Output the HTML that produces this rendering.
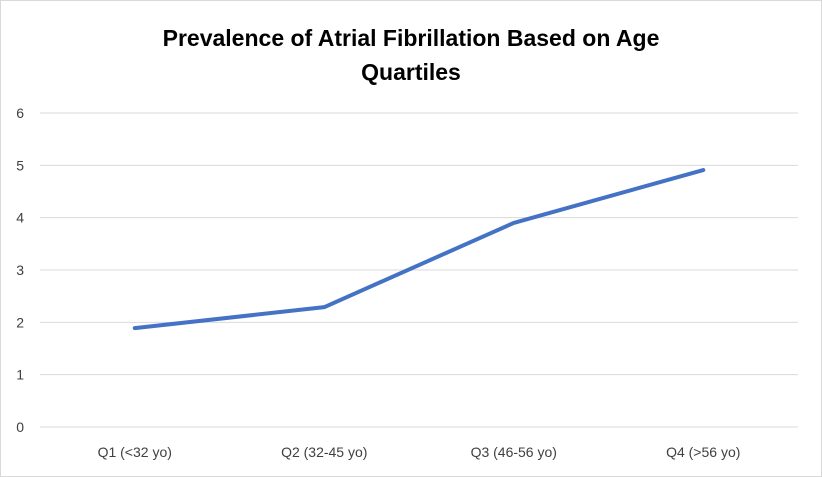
<!DOCTYPE html>
<html><head><meta charset="utf-8"><style>
html,body{margin:0;padding:0;background:#fff;}
svg{display:block;font-family:"Liberation Sans",Arial,sans-serif;}
</style></head><body>
<svg id="chart" width="822" height="477">
<rect x="0.5" y="0.5" width="821" height="476" fill="#fff" stroke="#d9d9d9"/>
<text x="411" y="46" text-anchor="middle" font-size="23" font-weight="bold" fill="#000">Prevalence of Atrial Fibrillation Based on Age</text>
<text x="411" y="80" text-anchor="middle" font-size="23" font-weight="bold" fill="#000">Quartiles</text>
<g id="grid"></g><g id="ylabels"></g><g id="xlabels"></g><g id="series"></g>
</svg>
<script>
const categories=["Q1 (<32 yo)","Q2 (32-45 yo)","Q3 (46-56 yo)","Q4 (>56 yo)"];
const values=[1.89,2.29,3.9,4.91];
const yTicks=[0,1,2,3,4,5,6];
const NS="http://www.w3.org/2000/svg";
const left=40,right=798,y0=427,yTop=113,yMax=6;
const y=v=>y0-(v/yMax)*(y0-yTop);
const bw=(right-left)/categories.length;
const x=i=>left+bw*(i+0.5);
function mk(t,a,p){const e=document.createElementNS(NS,t);for(const k in a)e.setAttribute(k,a[k]);p.appendChild(e);return e;}
const grid=document.getElementById('grid'),yl=document.getElementById('ylabels'),xl=document.getElementById('xlabels'),se=document.getElementById('series');
yTicks.forEach(t=>{
 const l=mk('line',{x1:left,x2:right,y1:y(t),y2:y(t),stroke:'#d9d9d9','stroke-width':1},grid);
 
 
 const tx=mk('text',{x:24,y:y(t)+5,'text-anchor':'end','font-size':14,fill:'#404040'},yl);
 tx.textContent=t;
 
 
});
categories.forEach((c,i)=>{
 const tx=mk('text',{x:x(i),y:457,'text-anchor':'middle','font-size':14,fill:'#404040'},xl);
 tx.textContent=c;
 
 
});
const pts=values.map((v,i)=>x(i)+','+y(v)).join(' ');
const pl=mk('polyline',{points:pts,fill:'none',stroke:'#4472c4','stroke-width':4,'stroke-linejoin':'round','stroke-linecap':'round'},se);


</script>
</body></html>
